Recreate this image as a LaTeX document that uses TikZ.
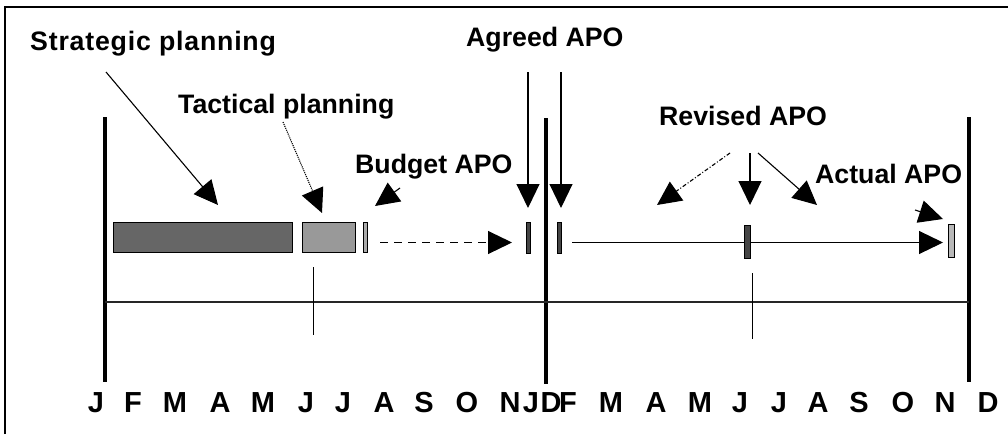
\documentclass[tikz,border=0pt]{standalone}
\usepackage{fontspec}
\setmainfont{Liberation Sans}
\usetikzlibrary{arrows.meta}

\begin{document}
\begin{tikzpicture}[x=1pt,y=-1pt,
  lbl/.style={font=\fontsize{26.7}{30}\selectfont\bfseries, inner sep=0pt, anchor=base west},
  mon/.style={font=\fontsize{29}{32}\selectfont\bfseries, inner sep=0pt, anchor=base},
  era/.style={line width=4pt},
  bar/.style={draw=black, line width=0.8pt, inner sep=0pt, minimum height=30pt},
  ptr/.style={line width=1.1pt, -{Triangle[length=24pt,width=23pt]}},
  tick/.style={line width=0.9pt}]

\useasboundingbox (0,0) rectangle (1008,434);

% outer frame (top and left edges)
\draw[line width=1.6pt] (5,434) -- (5,7) -- (1008,7);

% year boundaries and time axis
\draw[era] (104.5,117) -- (104.5,382);
\draw[era] (546,118) -- (546,384);
\draw[era] (968.5,117) -- (968.5,382);
\draw[line width=1.8pt, black!85] (104.5,302) -- (968.5,302);
\draw[tick] (313,267) -- (313,335);
\draw[tick] (752,273) -- (752,339);

% planning blocks
\node[bar, fill=black!60, minimum width=179pt] (strat) at (202.5,237) {};
\node[bar, fill=black!40, minimum width=53pt] (tact) at (328.5,237) {};
\node[bar, fill=black!33, minimum width=4pt] (budget) at (365,237) {};
\node[bar, fill=black!73, minimum width=4pt, minimum height=31pt] (agreedA) at (528,237.5) {};
\node[bar, fill=black!73, minimum width=4pt, minimum height=31pt] (agreedB) at (559,237.5) {};
\node[bar, fill=black!73, minimum width=6pt, minimum height=33pt] (revised) at (747,241.5) {};
\node[bar, fill=black!28, minimum width=6pt, minimum height=33pt] (actual) at (951,240.5) {};

% labels
\node[lbl] (lstrat) at (30,50) {\addfontfeature{LetterSpace=3}Strategic planning};
\node[lbl] (ltact) at (178,113) {Tactical planning};
\node[lbl] (lbudget) at (355,173) {Budget APO};
\node[lbl] (lagreed) at (466,46) {Agreed APO};
\node[lbl] (lrevised) at (659,125) {Revised APO};
\node[lbl] (lactual) at (815,183) {Actual APO};

% arrow ends
\coordinate (s0) at (106,72);   \coordinate (s1) at (218,205);
\coordinate (t0) at (283,122);  \coordinate (t1) at (322,213);
\coordinate (b0) at (400,188);  \coordinate (b1) at (375,206);
\coordinate (a0) at (528,72);   \coordinate (a1) at (528,208);
\coordinate (c0) at (561,72);   \coordinate (c1) at (561,208);
\coordinate (r0) at (730,153);  \coordinate (r1) at (657,205);
\coordinate (m0) at (750,153);  \coordinate (m1) at (750,205);
\coordinate (q0) at (758,153);  \coordinate (q1) at (817,205);
\coordinate (u0) at (915,210);  \coordinate (u1) at (943,219);
\coordinate (d0) at (380,242.5); \coordinate (d1) at (512,242.5);
\coordinate (e0) at (572,242.5); \coordinate (e1) at (943,242.5);

% pointers from the labels
\draw[ptr] (s0) -- (s1);
\draw[ptr, densely dotted] (t0) -- (t1);
\draw[ptr] (b0) -- (b1);
\draw[ptr] (a0) -- (a1);
\draw[ptr] (c0) -- (c1);
\draw[ptr, dash pattern=on 4pt off 2pt on 1pt off 2pt] (r0) -- (r1);
\draw[ptr] (m0) -- (m1);
\draw[ptr] (q0) -- (q1);
\draw[ptr] (u0) -- (u1);

% progress along the timeline
\draw[ptr, dash pattern=on 8pt off 6pt] (d0) -- (d1);
\draw[ptr] (e0) -- (e1);
\node[bar, fill=black!73, minimum width=6pt, minimum height=33pt] at (revised) {};

% months
\foreach \x/\m in {96/J,133/F,175/M,220/A,263/M,306/J,343/J,384/A,424/S,467/O,510/N,531/J,551/D,
                   568/F,611/M,656/A,700/M,740/J,779/J,818/A,859/S,903/O,945/N,988/D}
  \node[mon] at (\x,412) {\m};

\end{tikzpicture}
\end{document}
